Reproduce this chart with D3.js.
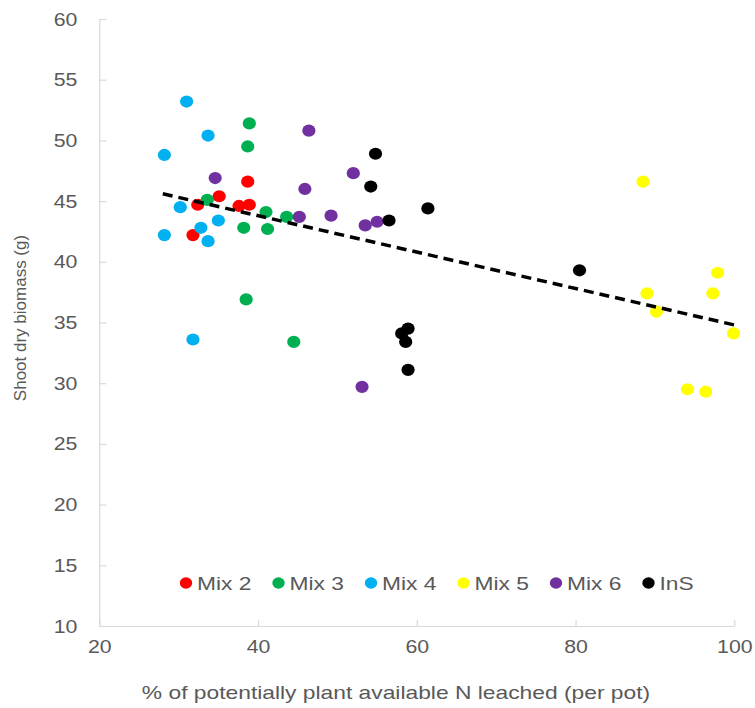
<!DOCTYPE html>
<html>
<head>
  <title>Shoot biomass vs N leached</title>
  <script src="https://d3js.org/d3.v7.min.js"></script>
  <style>
    body { margin: 0; background: #ffffff; }
    svg text { font-family: "Liberation Sans", Arial, sans-serif; fill: #595959; }
  </style>
</head>
<body>
<svg width="755" height="708"></svg>

<script>
  // series names + colours (legend order)
  var seriesNames = ["Mix 2", "Mix 3", "Mix 4", "Mix 5", "Mix 6", "InS"];
  var seriesColors = ["#ff0000", "#00b050", "#00b0f0", "#ffff00", "#7030a0", "#000000"];

  // % of N leached (x) and shoot dry biomass (y)
  var mix2X = [32.4, 35.1, 37.6, 38.9, 38.7, 31.8];
  var mix2Y = [44.7, 45.4, 44.6, 44.7, 46.6, 42.2];

  var mix3X = [38.9, 38.7, 33.6, 41.0, 43.6, 38.2, 41.2, 38.5, 44.5];
  var mix3Y = [51.4, 49.5, 45.1, 44.1, 43.7, 42.8, 42.7, 36.9, 33.4];

  var mix4X = [31.0, 33.7, 28.2, 30.2, 35.0, 32.8, 28.2, 33.7, 31.8];
  var mix4Y = [53.2, 50.4, 48.8, 44.5, 43.4, 42.8, 42.2, 41.7, 33.6];

  var mix5X = [88.5, 97.9, 97.3, 89.0, 90.2, 99.9, 94.1, 96.4];
  var mix5Y = [46.6, 39.1, 37.4, 37.4, 35.9, 34.1, 29.5, 29.3];

  var mix6X = [34.6, 46.4, 52.0, 45.9, 45.2, 49.2, 53.5, 55.0, 53.1];
  var mix6Y = [46.9, 50.8, 47.3, 46.0, 43.7, 43.8, 43.0, 43.3, 29.7];

  var insX = [54.8, 54.2, 56.5, 61.4, 80.5, 58.9, 58.1, 58.6, 58.9];
  var insY = [48.9, 46.2, 43.4, 44.4, 39.3, 34.5, 34.1, 33.4, 31.1];

  var allX = [mix2X, mix3X, mix4X, mix5X, mix6X, insX];
  var allY = [mix2Y, mix3Y, mix4Y, mix5Y, mix6Y, insY];

  // linear trendline end points
  var trendX = [28, 100];
  var trendY = [45.6, 34.8];

  var xTicks = [20, 40, 60, 80, 100];
  var yTicks = [10, 15, 20, 25, 30, 35, 40, 45, 50, 55, 60];

  var svg = d3.select("svg");
  // note: "top" clashes with window.top, so plot box gets its own names
  var plotL = 99.3, plotR = 734.3, plotT = 19, plotB = 626;

  var x = d3.scaleLinear().domain([20, 100]).range([plotL, plotR]);
  var y = d3.scaleLinear().domain([10, 60]).range([plotB, plotT]);

  // the original text is a bit wider than Liberation Sans, stretch it
  function widen(sel, k) {
    sel.each(function() {
      var w = this.getComputedTextLength();
      d3.select(this).attr("textLength", w * k).attr("lengthAdjust", "spacingAndGlyphs");
    });
  }

  // axes (ticks point inward like Excel)
  var xAxis = svg.append("g")
    .attr("transform", "translate(0," + plotB + ")")
    .call(d3.axisBottom(x).tickValues(xTicks).tickSizeInner(-6).tickSizeOuter(0).tickPadding(14));
  var yAxis = svg.append("g")
    .attr("transform", "translate(" + plotL + ",0)")
    .call(d3.axisLeft(y).tickValues(yTicks).tickSizeInner(-7).tickSizeOuter(0).tickPadding(22));

  [xAxis, yAxis].forEach(function(a) {
    a.select(".domain").attr("stroke", "#d9d9d9").attr("stroke-width", 1.2);
    a.selectAll(".tick line").attr("stroke", "#d9d9d9").attr("stroke-width", 1.2);
    a.selectAll(".tick text").style("font-size", "19px").attr("fill", "#595959");
    widen(a.selectAll(".tick text"), 1.12);
  });

  // axis titles
  var xTitle = svg.append("text")
    .attr("x", 396)
    .attr("y", 699)
    .attr("text-anchor", "middle")
    .style("font-size", "19px")
    .text("% of potentially plant available N leached (per pot)");
  widen(xTitle, 1.2);

  svg.append("text")
    .attr("transform", "translate(26,318) rotate(-90)")
    .attr("text-anchor", "middle")
    .style("font-size", "17px")
    .text("Shoot dry biomass  (g)");

  // points
  seriesNames.forEach(function(name, i) {
    svg.append("g").selectAll("ellipse")
      .data(allX[i].map(function(v, j) { return [v, allY[i][j]]; }))
      .enter().append("ellipse")
      .attr("cx", function(d) { return x(d[0]); })
      .attr("cy", function(d) { return y(d[1]); })
      .attr("rx", 6.6)
      .attr("ry", 6.1)
      .attr("fill", seriesColors[i]);
  });

  // trendline
  svg.append("line")
    .attr("x1", x(trendX[0])).attr("y1", y(trendY[0]))
    .attr("x2", x(trendX[1])).attr("y2", y(trendY[1]))
    .attr("stroke", "#000")
    .attr("stroke-width", 3.5)
    .attr("stroke-dasharray", "10,6");

  // legend
  var legend = svg.append("g").attr("transform", "translate(186,583)");
  seriesNames.forEach(function(name, i) {
    var item = legend.append("g").attr("transform", "translate(" + (i * 92.5) + ",0)");
    item.append("ellipse").attr("rx", 6.2).attr("ry", 5.8).attr("fill", seriesColors[i]);
    var t = item.append("text")
      .attr("x", 11)
      .attr("y", 7)
      .style("font-size", "19px")
      .text(name);
    widen(t, 1.2);
  });
</script>
</body>
</html>
